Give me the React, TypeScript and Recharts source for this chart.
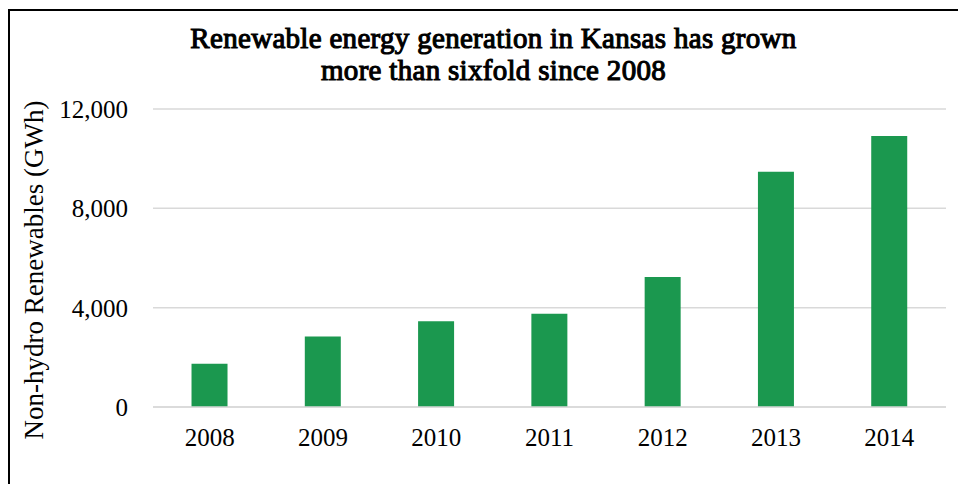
import { BarChart, Bar, XAxis, YAxis, CartesianGrid } from 'recharts';

const years = ['2008', '2009', '2010', '2011', '2012', '2013', '2014'];
const generation = [1740, 2840, 3450, 3760, 5230, 9470, 10910];
const yTicks = [0, 4000, 8000, 12000];

const data = years.map((year, i) => ({ year, value: generation[i] }));

const FONT = "'Liberation Serif', 'Times New Roman', serif";

// rotated axis title, placed a little below the plot's middle like the original
const YLabel = () => (
  <text x={43} y={270} transform="rotate(-90 43 270)" textAnchor="middle" fill="#000" fontSize={27} fontFamily={FONT}>
    Non-hydro Renewables (GWh)
  </text>
);

export default function App() {
  return (
    <div style={{ position: 'absolute', left: 0, top: 0, width: 958, height: 484, overflow: 'hidden', background: '#fff', fontFamily: FONT }}>
      {/* frame: only top and left edges are visible in the crop */}
      <div style={{ position: 'absolute', left: 8, top: 9, width: 1000, height: 600, borderTop: '2px solid #000', borderLeft: '2px solid #000' }} />

      {/* bold serif face isn't available, so fake the weight with a stroke */}
      <div style={{ position: 'absolute', left: 0, width: 987, top: 22, textAlign: 'center', fontWeight: 'normal', fontSize: 29, lineHeight: '32px', letterSpacing: '0.3px', color: '#000', WebkitTextStroke: '1.1px #000' }}>
        Renewable energy generation in Kansas has grown
        <br />
        more than sixfold since 2008
      </div>

      <div style={{ position: 'absolute', left: 0, top: 0 }}>
        <BarChart width={958} height={484} data={data} margin={{ top: 109, right: 12, bottom: 47, left: 0 }} barCategoryGap="34%">
          <CartesianGrid vertical={false} stroke="#d9d9d9" strokeWidth={1.5} />
          <XAxis
            dataKey="year"
            height={30}
            axisLine={{ stroke: '#d9d9d9', strokeWidth: 1.5 }}
            tickLine={false}
            tickMargin={15}
            tick={{ fill: '#000', fontSize: 25, fontFamily: FONT }}
            interval={0}
          />
          <YAxis
            width={153}
            domain={[0, 12000]}
            ticks={yTicks}
            axisLine={false}
            tickLine={false}
            tickMargin={19}
            tickFormatter={(v: number) => v.toLocaleString('en-US')}
            tick={{ fill: '#000', fontSize: 25, fontFamily: FONT }}
            label={{ content: YLabel }}
          />
          <Bar dataKey="value" fill="#1b984f" isAnimationActive={false} />
        </BarChart>
      </div>
    </div>
  );
}
